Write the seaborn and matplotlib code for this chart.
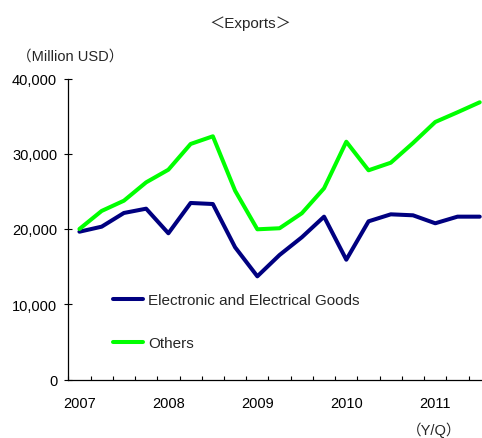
import matplotlib
matplotlib.use("Agg")
import matplotlib.pyplot as plt
import seaborn as sns
import pandas as pd
import numpy as np
from matplotlib.ticker import FuncFormatter, FixedLocator
from matplotlib.lines import Line2D

# ---- data (quarterly, 2007Q1 .. 2011Q3) ----
quarters = ["2007Q1", "2007Q2", "2007Q3", "2007Q4",
            "2008Q1", "2008Q2", "2008Q3", "2008Q4",
            "2009Q1", "2009Q2", "2009Q3", "2009Q4",
            "2010Q1", "2010Q2", "2010Q3", "2010Q4",
            "2011Q1", "2011Q2", "2011Q3"]
electronic = [19640, 20310, 22130, 22700, 19430, 23460, 23320, 17570,
              13710, 16550, 18900, 21640, 15920, 21020, 21950, 21820,
              20760, 21640, 21640]
others = [20000, 22400, 23760, 26200, 27880, 31300, 32320, 25090,
          19960, 20100, 22090, 25410, 31600, 27800, 28810, 31430,
          34220, 35510, 36840]
series_names = ["Electronic and Electrical Goods", "Others"]
year_labels = ["2007", "2008", "2009", "2010", "2011"]
y_ticks = [0, 10000, 20000, 30000, 40000]

df = pd.DataFrame({
    "idx": list(range(len(quarters))) * 2,
    "value": electronic + others,
    "series": [series_names[0]] * len(quarters) + [series_names[1]] * len(quarters),
})

sns.set_theme(style="white")
plt.rcParams["font.family"] = ["Liberation Sans", "Noto Sans CJK JP"]

W, H = 482, 439
fig = plt.figure(figsize=(W / 100, H / 100), dpi=100)
left, right, bottom, top = 68.3, 482, 380.5, 79.5
ax = fig.add_axes([left / W, 1 - bottom / H, (right - left) / W, (bottom - top) / H])

palette = {series_names[0]: "#000080", series_names[1]: "#00FF00"}
sns.lineplot(data=df, x="idx", y="value", hue="series", palette=palette,
             linewidth=2.9, ax=ax, legend=False)

n = len(quarters)
ax.set_xlim(-0.5, -0.5 + (right - left) / 22.24)
ax.set_ylim(0, 40000)

# x ticks: labels at Q1 centers, marks at category boundaries
ax.xaxis.set_major_locator(FixedLocator([i * 4 for i in range(len(year_labels))]))
ax.set_xticklabels(year_labels)
ax.xaxis.set_minor_locator(FixedLocator([-0.5 + k for k in range(n + 1)]))
ax.tick_params(axis="x", which="major", length=0, pad=12, labelsize=10.5, colors="black")
ax.tick_params(axis="x", which="minor", direction="in", length=3, width=0.8,
               color="black", bottom=True)

ax.set_yticks(y_ticks)
ax.yaxis.set_major_formatter(FuncFormatter(lambda v, p: f"{int(v):,}"))
ax.tick_params(axis="y", which="major", direction="inout", length=6, width=0.8,
               pad=5, labelsize=10.5, colors="black", left=True)

ax.set_xlabel("")
ax.set_ylabel("")
for s in ["top", "right"]:
    ax.spines[s].set_visible(False)
for s in ["left", "bottom"]:
    ax.spines[s].set_color("black")
    ax.spines[s].set_linewidth(0.9)
ax.grid(False)

# legend
handles = [Line2D([], [], color=palette[s], linewidth=2.9) for s in series_names]
fig.legend(handles, series_names, loc="upper left",
           bbox_to_anchor=(112.7 / W, 1 - 294 / H), frameon=False,
           fontsize=11, handlelength=2.0, handletextpad=0.3,
           labelspacing=1.92, borderpad=0, borderaxespad=0)

# texts
fam = ["Liberation Sans", "Noto Sans CJK JP"]
fig.text(250 / W, 1 - 24 / H, "＜Exports＞", ha="center", va="center",
         fontsize=11, family=fam)
fig.text(17 / W, 1 - 57 / H, "（Million USD）", ha="left", va="center",
         fontsize=10.5, family=fam)
fig.text(434 / W, 1 - 430 / H, "（Y/Q）", ha="center", va="center",
         fontsize=10.5, family=fam)

fig.savefig("out.png", dpi=100)
